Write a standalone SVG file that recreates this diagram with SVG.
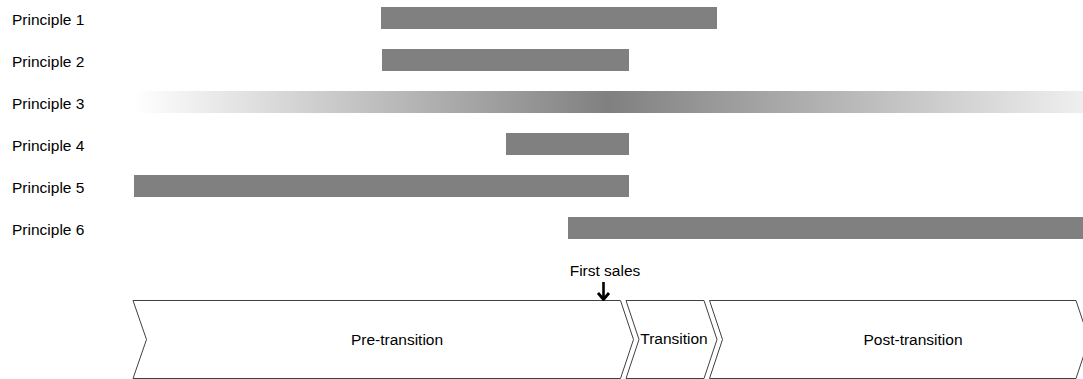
<svg xmlns="http://www.w3.org/2000/svg" width="1083" height="379" viewBox="0 0 1083 379">
<style>
.lbl{font-family:"Liberation Sans",Arial,sans-serif;font-size:15.5px;fill:#000}
.bar{fill:#808080}
.chev{fill:#fff;stroke:#404040;stroke-width:1}
</style>
<defs>
<linearGradient id="g3" x1="0" y1="0" x2="1" y2="0">
<stop offset="0" stop-color="#ffffff"/>
<stop offset="0.5" stop-color="#808080"/>
<stop offset="1" stop-color="#efefef"/>
</linearGradient>
<marker id="ah" viewBox="0 0 10 14" refX="9" refY="7" markerWidth="10" markerHeight="14" markerUnits="userSpaceOnUse" orient="auto">
<path d="M2,1.5 L8.5,7 L2,12.5" fill="none" stroke="#000" stroke-width="2.8"/>
</marker>
</defs>
<rect width="1083" height="379" fill="#fff"/>
<g id="principle1"><text class="lbl" x="12" y="25">Principle 1</text><rect class="bar" x="381" y="7" width="336" height="22"/></g>
<g id="principle2"><text class="lbl" x="12" y="67">Principle 2</text><rect class="bar" x="382" y="49" width="247" height="22"/></g>
<g id="principle3"><text class="lbl" x="12" y="109">Principle 3</text><rect x="134" y="91" width="949" height="22" fill="url(#g3)"/></g>
<g id="principle4"><text class="lbl" x="12" y="151">Principle 4</text><rect class="bar" x="506" y="133" width="123" height="22"/></g>
<g id="principle5"><text class="lbl" x="12" y="193">Principle 5</text><rect class="bar" x="134" y="175" width="495" height="22"/></g>
<g id="principle6"><text class="lbl" x="12" y="235">Principle 6</text><rect class="bar" x="568" y="217" width="515" height="22"/></g>
<g id="pre-transition"><polygon class="chev" points="133,300.5 620.5,300.5 633.5,339.5 620.5,378.5 133,378.5 146.5,339.5"/><text class="lbl" x="397" y="345" text-anchor="middle">Pre-transition</text></g>
<g id="transition"><polygon class="chev" points="626,300.5 704,300.5 717,339.5 704,378.5 626,378.5 639,339.5"/><text class="lbl" x="674" y="344" text-anchor="middle">Transition</text></g>
<g id="post-transition"><polygon class="chev" points="709.5,300.5 1076,300.5 1089,339.5 1076,378.5 709.5,378.5 722.5,339.5"/><text class="lbl" x="913" y="345" text-anchor="middle">Post-transition</text></g>
<g id="first-sales"><text class="lbl" x="605" y="276" text-anchor="middle">First sales</text></g>
<g id="connectors"><line x1="603.5" y1="282" x2="603.5" y2="300" stroke="#000" stroke-width="2.6" marker-end="url(#ah)"/></g>
</svg>
